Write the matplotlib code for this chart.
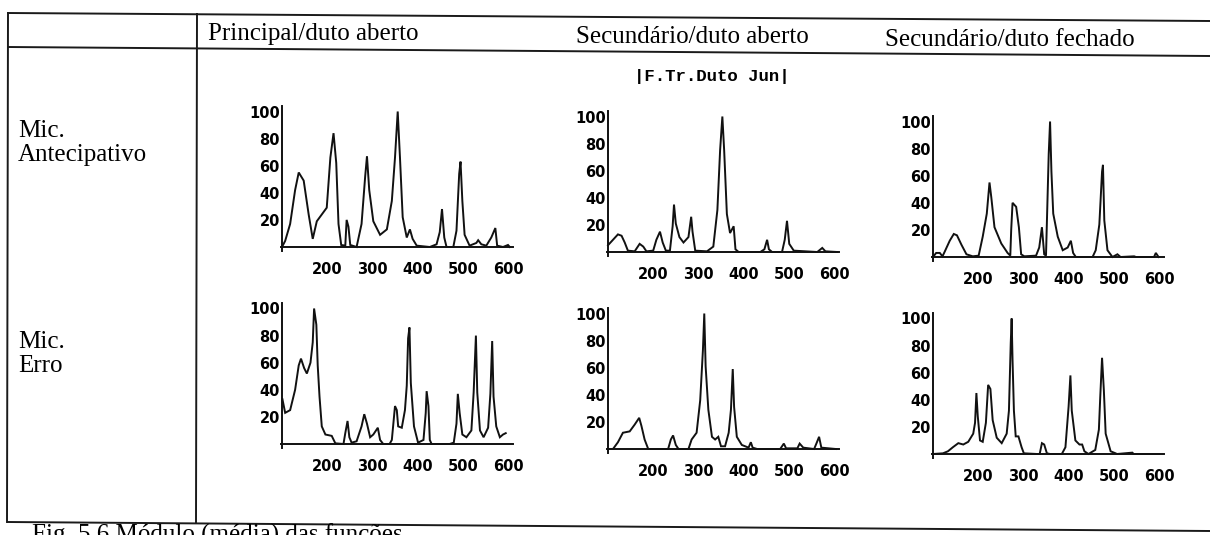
import matplotlib
matplotlib.use('Agg')
from matplotlib import pyplot as plt
from matplotlib.lines import Line2D

# spectra: frequency (Hz) and amplitude (% of max)
f_princ_ant = [100, 107, 118, 129, 137, 148, 159, 168, 177, 188, 199, 207, 214, 220, 225, 231, 240, 243, 247,
               251, 265, 276, 284, 288, 293, 302, 317, 332, 343, 350, 356, 361, 367, 376, 383, 389, 398, 427,
               442, 449, 454, 459, 464, 479, 486, 492, 495, 499, 504, 515, 530, 534, 541, 552, 563, 572, 576,
               589, 600, 604]
a_princ_ant = [0, 4.5, 17, 42, 55, 49, 24, 6, 19, 24, 29, 66, 84, 62, 17, 1.5, 1, 20, 15,
               1.5, 0, 17, 52, 67, 42, 19, 9, 13, 34, 66, 100, 66, 22, 7, 13, 6, 1, 0,
               2, 11, 28, 7, 0, 0, 12, 54, 63, 34, 9, 1, 3, 5, 2, 1, 7, 14, 1,
               0, 1.5, 0]

f_princ_err = [101, 107, 118, 129, 137, 142, 149, 155, 163, 168, 171, 176, 179, 183, 188, 196, 210, 218, 236,
               240, 245, 249, 254, 265, 276, 282, 288, 295, 302, 312, 317, 324, 338, 343, 350, 354, 357, 365,
               372, 376, 379, 382, 385, 392, 401, 413, 418, 420, 424, 427, 431, 471, 480, 486, 489, 493, 499,
               508, 519, 524, 529, 532, 538, 546, 556, 561, 565, 568, 574, 582, 589, 595]
a_princ_err = [33, 23, 25, 40, 58, 63, 56, 52, 60, 75, 100, 88, 58, 35, 13, 7, 6, 0.5, 0,
               8, 17, 5, 1, 2, 13, 22, 15, 5, 7, 12, 3, 0, 0, 3, 28, 25, 13, 12,
               25, 43, 78, 86, 45, 13, 1, 3, 23, 39, 28, 3, 0, 0, 1, 15, 37, 23, 7,
               5, 10, 38, 80, 38, 10, 5, 12, 37, 76, 35, 13, 5, 7, 8]

f_sec_ab_ant = [100, 111, 122, 130, 137, 144, 159, 170, 178, 185, 200, 207, 215, 221, 228, 237, 243, 246, 250,
                258, 267, 278, 284, 287, 293, 319, 333, 342, 348, 353, 357, 363, 370, 378, 382, 389, 437, 446,
                452, 456, 463, 485, 491, 496, 501, 511, 563, 574, 581, 607]
a_sec_ab_ant = [5, 9, 13, 12, 7, 1, 0.5, 6, 4, 0.5, 1, 9, 15, 7, 1, 1, 19, 35, 21,
                11, 7, 11, 26, 15, 1, 0.5, 4, 31, 75, 100, 75, 28, 14, 19, 2, 0, 0, 2,
                9, 2, 0, 0, 9, 23, 6, 1, 0, 3, 0.5, 0]

f_sec_ab_err = [100, 111, 122, 133, 148, 159, 169, 174, 181, 189, 233, 239, 244, 250, 256, 278, 285, 296, 304,
                310, 313, 316, 322, 330, 337, 344, 350, 359, 367, 372, 376, 379, 385, 396, 411, 416, 420, 430,
                481, 489, 494, 519, 524, 532, 556, 561, 567, 572, 604]
a_sec_ab_err = [0, 0, 5, 12, 13, 18, 23, 17, 7, 0, 0, 7, 10, 3, 0, 0, 7, 12, 36,
                73, 100, 61, 29, 9, 7, 9, 2, 2, 12, 29, 59, 31, 9, 3, 1, 5, 1, 0,
                0, 4, 0.5, 0.5, 4, 1, 0, 4, 9, 1, 0]

f_sec_fe_ant = [100, 107, 115, 121, 126, 137, 146, 153, 163, 174, 188, 201, 210, 219, 225, 229, 236, 251, 265,
                271, 273, 276, 284, 290, 295, 302, 328, 335, 341, 346, 350, 356, 359, 362, 366, 376, 387, 398,
                405, 410, 416, 453, 460, 468, 474, 476, 479, 486, 497, 508, 515, 545, 549, 589, 593, 599]
a_sec_fe_ant = [0, 3, 3, 0.5, 4, 12, 17, 16, 9, 2, 0.5, 1, 15, 32, 55, 44, 22, 10, 3,
                1, 20, 40, 37, 22, 2, 0.5, 1, 7, 22, 2, 1, 76, 100, 63, 32, 15, 5, 7,
                12, 3, 0, 0, 5, 24, 63, 68, 27, 5, 0, 2, 0, 0.5, 0, 0, 3, 0]

f_sec_fe_err = [100, 122, 133, 144, 156, 167, 178, 189, 193, 196, 199, 204, 210, 217, 222, 227, 232, 241, 252,
                263, 268, 272, 274, 276, 279, 283, 289, 296, 301, 330, 336, 341, 346, 352, 359, 385, 393, 400,
                404, 407, 415, 424, 430, 435, 444, 459, 467, 470, 474, 478, 482, 493, 504, 507, 541, 544, 600]
a_sec_fe_err = [0, 0.5, 2, 5, 8, 7, 9, 15, 23, 45, 28, 10, 9, 23, 51, 48, 25, 12, 8,
                15, 32, 82, 100, 69, 32, 13, 13, 5, 0.5, 0, 0, 8, 7, 0.5, 0, 0, 5, 35,
                58, 32, 10, 7, 7, 2, 0, 3, 18, 42, 71, 47, 15, 2, 0.5, 0, 1, 0, 0]

col_titles = ['Principal/duto aberto', 'Secundário/duto aberto', 'Secundário/duto fechado']
row_titles = ['Mic.\nAntecipativo', 'Mic.\nErro']
xticks = [200, 300, 400, 500, 600]
yticks = [20, 40, 60, 80, 100]

W, H = 1210, 535
fig = plt.figure(figsize=(W / 100, H / 100), dpi=100)
serif = 'Liberation Serif'


def fx(x):
    return x / W


def fy(y):
    return 1 - y / H


def line(x1, y1, x2, y2):
    fig.add_artist(Line2D([fx(x1), fx(x2)], [fy(y1), fy(y2)], transform=fig.transFigure,
                          color='#1a1a1a', lw=1.4))


# table frame (scan is slightly tilted)
line(8, 13, 1210, 21)
line(8, 47, 1210, 56)
line(8, 522, 1210, 531)
line(8, 13, 7, 522)
line(197, 14, 196, 523)

# headers
for x, y, t in zip([208, 576, 885], [34, 37, 40], col_titles):
    fig.text(fx(x), fy(y), t, family=serif, fontsize=18, va='center', ha='left')
for y, t in zip([143, 354], row_titles):
    fig.text(fx(18), fy(y), t, family=serif, fontsize=18, va='center', ha='left',
             linespacing=1.15)
fig.text(fx(712), fy(77), '|F.Tr.Duto Jun|', family='Liberation Mono', fontweight='bold',
         fontsize=12.5, ha='center', va='center')
# caption is cut by the lower edge in the scan
fig.text(fx(32), fy(542), 'Fig. 5.6 Módulo (média) das funções', family=serif, fontsize=18,
         ha='left', va='baseline')

panels = [
    ((282, 247), f_princ_ant, a_princ_ant),
    ((282, 444), f_princ_err, a_princ_err),
    ((608, 252), f_sec_ab_ant, a_sec_ab_ant),
    ((608, 449), f_sec_ab_err, a_sec_ab_err),
    ((933, 257), f_sec_fe_ant, a_sec_fe_ant),
    ((933, 454), f_sec_fe_err, a_sec_fe_err),
]

sx, sy = 0.452, 1.355  # pixels per data unit
x_lo, x_hi, y_lo, y_hi = 95, 612, -4, 106
for (x0, y0), f, a in panels:
    left = x0 - (100 - x_lo) * sx
    bottom = y0 - y_lo * sy
    w = (x_hi - x_lo) * sx
    h = (y_hi - y_lo) * sy
    ax = fig.add_axes([fx(left), fy(bottom), fx(w), h / H])
    ax.set_xlim(x_lo, x_hi)
    ax.set_ylim(y_lo, y_hi)
    ax.patch.set_alpha(0)
    ax.plot(f, a, color='#111111', lw=1.4, solid_joinstyle='miter')
    for s in ['top', 'right']:
        ax.spines[s].set_visible(False)
    ax.spines['left'].set_position(('data', 100))
    ax.spines['left'].set_bounds(-3, 104)
    ax.spines['bottom'].set_position(('data', 0))
    ax.spines['bottom'].set_bounds(97, 610)
    for s in ['left', 'bottom']:
        ax.spines[s].set_linewidth(1.4)
        ax.spines[s].set_color('#111111')
    ax.set_xticks(xticks)
    ax.set_yticks(yticks)
    ax.tick_params(length=0)
    ax.tick_params(axis='x', pad=11)
    ax.tick_params(axis='y', pad=1.5)
    for lab in ax.get_xticklabels() + ax.get_yticklabels():
        lab.set_fontweight('bold')
        lab.set_fontsize(10.5)
        lab.set_family('DejaVu Sans')

fig.savefig('out.png', dpi=100)
